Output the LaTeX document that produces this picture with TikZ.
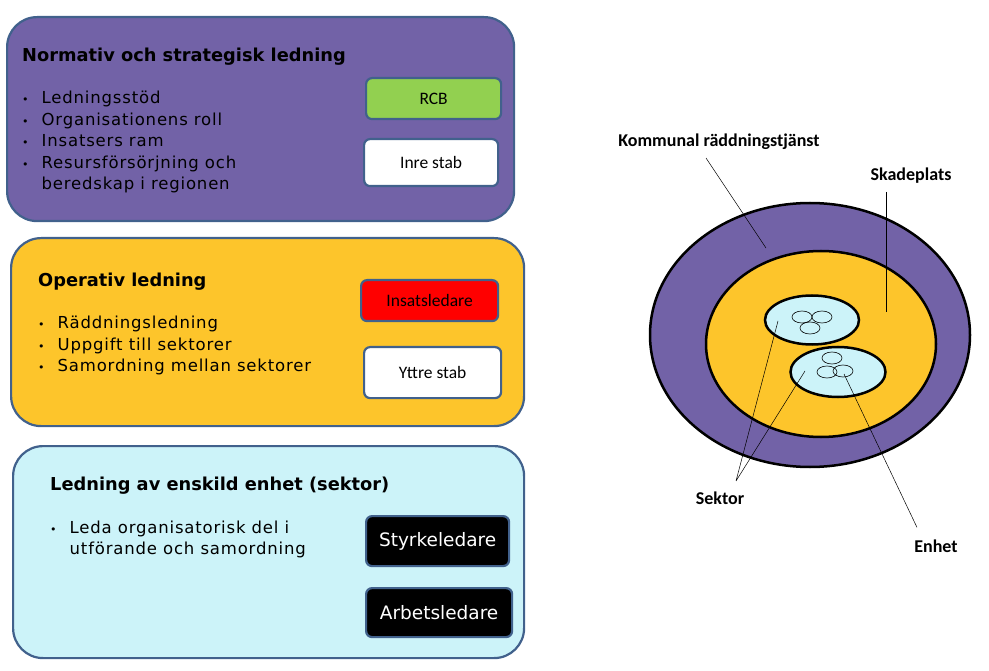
\documentclass[tikz,border=0pt]{standalone}
\usepackage{fontspec}
\setmainfont{DejaVu Sans}
\newfontfamily\calibri{Carlito}
\newfontfamily\widesans[LetterSpace=5]{DejaVu Sans}
\usetikzlibrary{shapes.geometric}

\definecolor{lilac}{HTML}{7262A7}
\definecolor{amber}{HTML}{FDC52B}
\definecolor{icecyan}{HTML}{CCF3F9}
\definecolor{leafgreen}{HTML}{92D050}
\definecolor{boxedge}{HTML}{41618C}

\newcommand{\dotmark}{{\fontsize{11}{11}\selectfont •}}

\tikzset{
  levelbox/.style={draw=boxedge, line width=2.2pt, rounded corners=30pt,
    anchor=north west, inner sep=0pt},
  rolebox/.style={draw=boxedge, line width=2.2pt, rounded corners=6pt,
    anchor=north west, inner sep=0pt},
  heading/.style={anchor=base west, inner sep=0pt, font=\fontsize{17.8}{20}\selectfont\bfseries},
  points/.style={anchor=base west, inner sep=0pt, font=\widesans\fontsize{16.5}{21.5}\selectfont},
  roletext/.style={font=\calibri\fontsize{17.5}{20}\selectfont},
  ring/.style={ellipse, draw, line width=2.5pt, inner sep=0pt},
  unit/.style={ellipse, draw, line width=0.6pt, inner sep=0pt,
    minimum width=20pt, minimum height=12pt},
  tag/.style={font=\calibri\bfseries\fontsize{18}{20}\selectfont, inner sep=0pt}
}

\begin{document}
\begin{tikzpicture}[x=1pt,y=-1pt]
\useasboundingbox (0,0) rectangle (989,671);

% vänster: ledningsnivåer
\node[levelbox, fill=lilac, minimum width=507pt, minimum height=204pt] (strat) at (6,16) {};
\node[heading] (strattitle) at (22,62) {Normativ och strategisk ledning};
\node[points] (stratlist) at (22,104) {\begin{tabular}[t]{@{}l@{\hspace{13pt}}l@{}}
  \dotmark & Ledningsstöd\\
  \dotmark & Organisationens roll\\
  \dotmark & Insatsers ram\\
  \dotmark & Resursförsörjning och\\
    & beredskap i regionen
\end{tabular}};
\node[rolebox, fill=leafgreen, minimum width=135pt, minimum height=41pt, roletext] (rcb) at (365,77) {RCB};
\node[rolebox, fill=white, minimum width=134pt, minimum height=47pt, roletext] (inrestab) at (363,138) {Inre stab};

\node[levelbox, fill=amber, minimum width=513pt, minimum height=188pt] (oper) at (10,237) {};
\node[heading] (opertitle) at (38,287) {Operativ ledning};
\node[points] (operlist) at (38,329) {\begin{tabular}[t]{@{}l@{\hspace{13pt}}l@{}}
  \dotmark & Räddningsledning\\
  \dotmark & Uppgift till sektorer\\
  \dotmark & Samordning mellan sektorer
\end{tabular}};
\node[rolebox, fill=red, minimum width=137pt, minimum height=41pt, roletext] (insats) at (360,279) {Insatsledare};
\node[rolebox, fill=white, minimum width=137pt, minimum height=51pt, roletext] (yttrestab) at (363,346) {Yttre stab};

\node[levelbox, fill=icecyan, minimum width=511pt, minimum height=212pt] (enskild) at (12,445) {};
\node[heading] (enskildtitle) at (50,490) {Ledning av enskild enhet (sektor)};
\node[points] (enskildlist) at (50,533) {\begin{tabular}[t]{@{}l@{\hspace{13pt}}l@{}}
  \dotmark & Leda organisatorisk del i\\
    & utförande och samordning
\end{tabular}};
\node[rolebox, fill=black, text=white, minimum width=143pt, minimum height=50pt,
  font=\fontsize{18.5}{20}\selectfont] (styrke) at (365,515) {Styrkeledare};
\node[rolebox, fill=black, text=white, minimum width=146pt, minimum height=49pt,
  font=\fontsize{18.5}{20}\selectfont] (arbets) at (365,587) {Arbetsledare};

% höger: skadeplatsen
\node[ring, fill=lilac, minimum width=320pt, minimum height=264pt] (kommun) at (810,335) {};
\node[ring, fill=amber, minimum width=230pt, minimum height=186pt] (skade) at (821,344) {};
\node[ring, fill=icecyan, minimum width=94pt, minimum height=49pt] (sektorA) at (812,320) {};
\node[ring, fill=icecyan, minimum width=95pt, minimum height=50pt] (sektorB) at (838,372) {};
\node[unit] (enhetA1) at (802,317) {};
\node[unit] (enhetA2) at (822,317) {};
\node[unit] (enhetA3) at (810,328) {};
\node[unit] (enhetB1) at (832,358) {};
\node[unit] (enhetB2) at (827,372) {};
\node[unit] (enhetB3) at (843,371) {};

\node[tag] (kommunlbl) at (719,142) {Kommunal räddningstjänst};
\node[tag] (skadelbl) at (911,176) {Skadeplats};
\node[tag] (sektorlbl) at (720,498) {Sektor};
\node[tag] (enhetlbl) at (936,546) {Enhet};

\coordinate (kommunpt) at (766,248);
\coordinate (skadept) at (886,312);
\coordinate (sektorApt) at (778,321);
\coordinate (sektorBpt) at (805,371);
\coordinate (enhetpt) at (844,374);
\coordinate (sektorfork) at (736,481);

\draw[line width=0.5pt] ([shift={(-13,8)}]kommunlbl.south) -- (kommunpt);
\draw[line width=0.8pt] ([shift={(-25,8)}]skadelbl.south) -- (skadept);
\draw[line width=0.5pt] (sektorfork) -- (sektorApt)
  (sektorfork) -- (sektorBpt);
\draw[line width=0.5pt] ([shift={(-19,-12)}]enhetlbl.north) -- (enhetpt);
\end{tikzpicture}
\end{document}
